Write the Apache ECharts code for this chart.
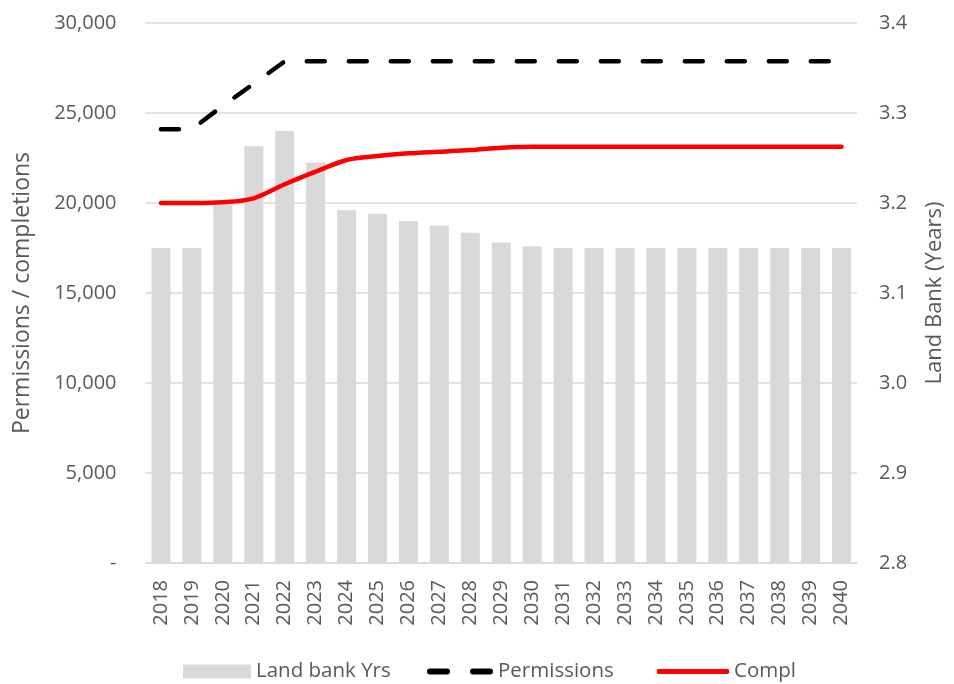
<!DOCTYPE html>
<html><head><meta charset="utf-8">
<script src="https://cdn.jsdelivr.net/npm/echarts@6/dist/echarts.min.js"></script>
<style>html,body{margin:0;padding:0;background:#fff}#c{width:954px;height:684px}</style>
</head><body><div id="c"></div>
<script>
const years = ['2018','2019','2020','2021','2022','2023','2024','2025','2026','2027','2028','2029','2030','2031','2032','2033','2034','2035','2036','2037','2038','2039','2040'];
const landBank = [3.150,3.150,3.198,3.263,3.280,3.245,3.192,3.188,3.180,3.175,3.167,3.156,3.152,3.150,3.150,3.150,3.150,3.150,3.150,3.150,3.150,3.150,3.150];
const permissions = [24100,24100,25400,26630,27870,27870,27870,27870,27870,27870,27870,27870,27870,27870,27870,27870,27870,27870,27870,27870,27870,27870,27870];
const compl = [20000,20000,20040,20260,21040,21740,22390,22610,22760,22850,22940,23070,23130,23130,23130,23130,23130,23130,23130,23130,23130,23130,23130];
const leftTicks = {min:0, max:30000, interval:5000};
const rightTicks = {min:2.8, max:3.4, interval:0.1};

const font = '"Open Sans", sans-serif';
const txt = '#595959';
const legText = {color:txt, fontSize:20.5, fontFamily:font};
const chart = echarts.init(document.getElementById('c'));
chart.setOption({
  animation:false,
  textStyle:{fontFamily:font},
  grid:{left:145.5, right:93.5, top:23, bottom:121, containLabel:false},
  legend:[
    {left:178, top:656, itemWidth:68, itemHeight:14, textStyle:legText,
     data:[{name:'Land bank Yrs', icon:'rect'}]},
    {left:422, top:656, itemWidth:66, itemHeight:6, textStyle:legText,
     data:[{name:'Permissions', icon:'path://M3,0 H20 A3,3 0 0 1 20,6 H3 A3,3 0 0 1 3,0 Z M46,0 H63 A3,3 0 0 1 63,6 H46 A3,3 0 0 1 46,0 Z'}]},
    {left:652, top:656, itemWidth:72, itemHeight:5, textStyle:legText,
     data:[{name:'Compl', icon:'roundRect'}]}
  ],
  xAxis:{
    type:'category', data:years,
    axisLine:{lineStyle:{color:'#d9d9d9', width:1.5}},
    axisTick:{show:false},
    axisLabel:{rotate:90, color:txt, fontSize:20, margin:17, fontFamily:font}
  },
  yAxis:[
    {type:'value', min:leftTicks.min, max:leftTicks.max, interval:leftTicks.interval,
     name:'Permissions / completions', nameLocation:'middle', nameGap:112,
     nameTextStyle:{color:txt, fontSize:23, fontFamily:font},
     axisLine:{show:false}, axisTick:{show:false},
     splitLine:{lineStyle:{color:'#d9d9d9', width:1.5}},
     axisLabel:{color:txt, fontSize:20, margin:29, fontFamily:font,
       formatter:v=> v===0 ? '-' : v.toLocaleString('en-US')}},
    {type:'value', min:rightTicks.min, max:rightTicks.max, interval:rightTicks.interval,
     name:'Land Bank (Years)', nameLocation:'middle', nameGap:67,
     nameTextStyle:{color:txt, fontSize:22, fontFamily:font},
     axisLine:{show:false}, axisTick:{show:false}, splitLine:{show:false},
     axisLabel:{color:txt, fontSize:20, margin:22, fontFamily:font, formatter:v=>v.toFixed(1)}}
  ],
  series:[
    {name:'Land bank Yrs', type:'bar', yAxisIndex:1, data:landBank, barWidth:19,
     itemStyle:{color:'#d9d9d9'}, z:1},
    {name:'Permissions', type:'line', yAxisIndex:0, data:permissions, symbol:'none',
     lineStyle:{color:'#000', width:4.5, type:[18,24], cap:'round'}, itemStyle:{color:'#000'}, z:3},
    {name:'Compl', type:'line', yAxisIndex:0, data:compl, symbol:'none', smooth:0.3,
     lineStyle:{color:'#ff0000', width:4.5, cap:'round'}, itemStyle:{color:'#ff0000'}, z:4}
  ]
});
</script></body></html>
